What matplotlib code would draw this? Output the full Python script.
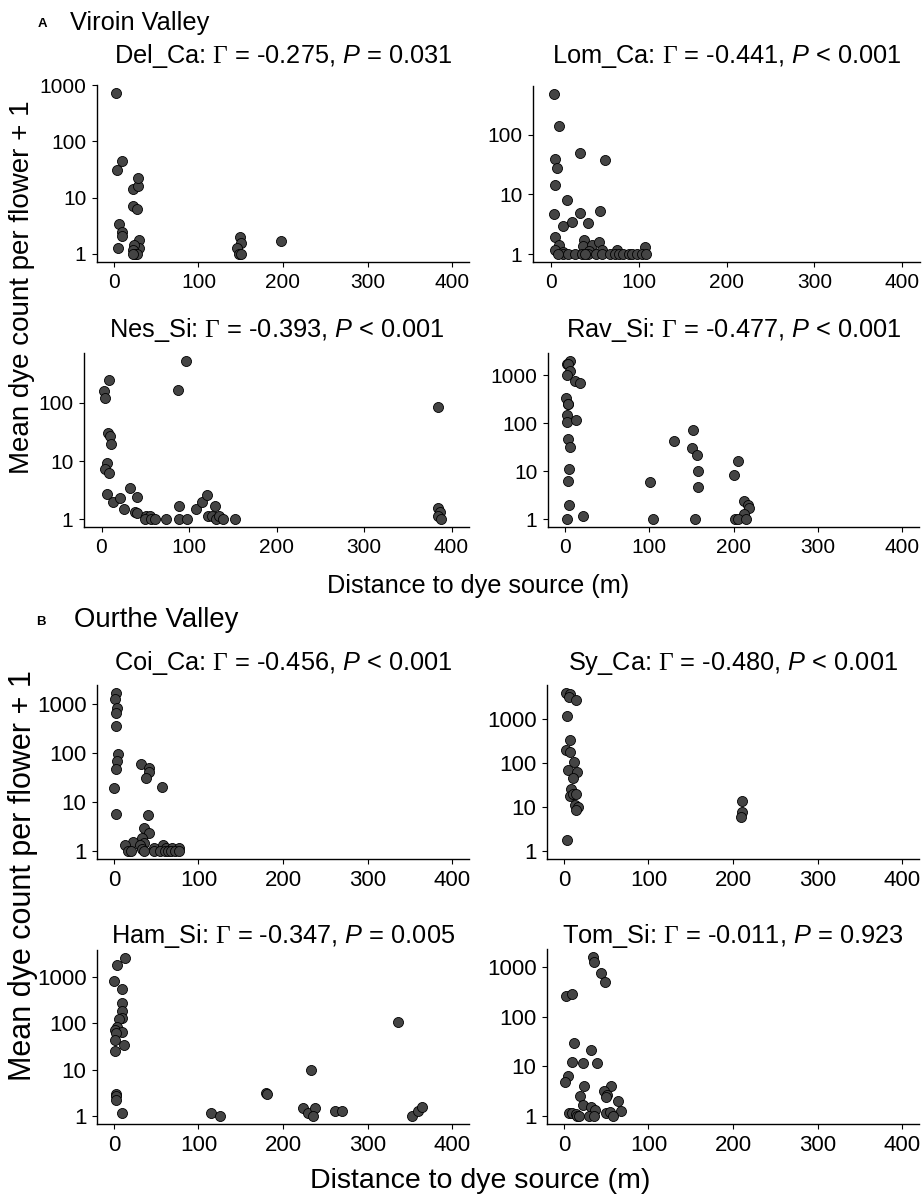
import matplotlib
matplotlib.use("Agg")
import matplotlib.pyplot as plt
from matplotlib.ticker import FixedLocator, FixedFormatter, NullLocator
import numpy as np

plt.rcParams['font.family'] = ['Liberation Sans', 'DejaVu Sans']
plt.rcParams['mathtext.fontset'] = 'custom'
plt.rcParams['mathtext.rm'] = 'Liberation Serif'
plt.rcParams['mathtext.it'] = 'Liberation Sans:italic'

# values (distance in m, mean dye count per flower + 1)
del_ca_x = [3, 9, 4, 22, 28, 28, 23, 27, 6, 10, 10, 5, 30, 30, 24, 23, 25, 27, 23,
            149, 150, 146, 148, 150, 198]
del_ca_y = [720, 44, 31, 14, 16, 22, 7, 6.2, 3.4, 2.5, 2.1, 1.26, 1.8, 1.26, 1.45, 1.18,
            1.0, 1.0, 1.0, 2.0, 1.55, 1.26, 1.0, 1.0, 1.7]

lom_ca_x = [4, 9, 5, 7, 5, 33, 62, 19, 4, 33, 56, 14, 24, 42, 5, 10, 5, 14, 38, 37, 47,
            55, 44, 58, 75, 107, 14, 20, 28, 36, 42, 52, 58, 67, 73, 78, 82, 89, 93, 98,
            104, 109, 8, 39]
lom_ca_y = [480, 138, 39, 27.5, 14.4, 50, 37.6, 7.9, 4.6, 4.9, 5.3, 3.0, 3.5, 3.3, 1.9,
            1.4, 1.15, 1.1, 1.7, 1.38, 1.4, 1.57, 1.14, 1.15, 1.17, 1.3, 1, 1, 1, 1, 1,
            1, 1, 1, 1, 1, 1, 1, 1, 1, 1, 1, 1, 1]

nes_si_x = [96, 87, 385, 8, 3, 4, 7, 10, 11, 6, 4, 8, 6, 13, 21, 33, 40, 26, 38, 41, 51,
            55, 50, 57, 61, 74, 88, 88, 98, 108, 115, 121, 130, 122, 126, 131, 134, 139,
            153, 385, 387, 384, 388]
nes_si_y = [530, 167, 84, 250, 162, 122, 30, 27, 20, 9.4, 7.2, 6.3, 2.7, 2.0, 2.3, 3.4,
            2.4, 1.5, 1.35, 1.27, 1.15, 1.15, 1, 1, 1, 1, 1.7, 1, 1, 1.5, 2.0, 2.6, 1.7,
            1.15, 1.15, 1, 1.15, 1, 1, 1.55, 1.3, 1.15, 1]

rav_si_x = [6, 3, 4, 6, 3, 12, 18, 1, 4, 4, 2, 3, 13, 4, 6, 5, 4, 5, 3, 22, 101, 104,
            130, 152, 151, 157, 158, 158, 154, 200, 205, 213, 217, 218, 213, 202, 205, 215]
rav_si_y = [2000, 1700, 1750, 1250, 1030, 750, 690, 340, 255, 250, 146, 106, 115, 48, 32,
            11, 6.3, 2.0, 1.0, 1.14, 6.0, 1.0, 43, 71, 31, 21.5, 10.2, 4.6, 1.0, 8.3, 16,
            2.4, 2.0, 1.7, 1.27, 1.0, 1.0, 1.0]

coi_ca_x = [3, 1, 4, 2, 2, 5, 4, 2, 0.5, 2, 32, 42, 41, 38, 57, 40, 35, 41, 33, 36, 22,
            13, 17, 31, 33, 36, 47, 58, 62, 69, 77, 20, 48, 54, 60, 64, 68, 72, 77]
coi_ca_y = [1660, 1230, 810, 660, 355, 95, 67, 46, 19.5, 5.7, 58, 50, 41, 31, 20, 5.5,
            2.95, 2.3, 1.85, 1.47, 1.5, 1.32, 1.0, 1.36, 1.08, 1.0, 1.17, 1.32, 1.17, 1.17,
            1.17, 1, 1, 1, 1, 1, 1, 1, 1]

sy_ca_x = [3, 7, 6, 14, 4, 7, 3, 7, 12, 5, 15, 11, 8, 7, 11, 14, 13, 17, 14, 4, 211, 211, 209]
sy_ca_y = [3800, 3500, 3070, 2570, 1150, 333, 190, 179, 103, 67, 61, 46, 25, 17.6, 19.5,
           20, 11, 9.8, 8.6, 1.8, 13.6, 7.6, 5.8]

ham_si_x = [13, 4, 0, 9, 10, 10, 10, 6, 4, 1, 9, 2, 1, 12, 1, 3, 3, 3, 9, 115, 126, 180,
            181, 224, 229, 233, 238, 236, 261, 270, 336, 353, 360, 364]
ham_si_y = [2600, 1830, 810, 550, 278, 187, 129, 122, 85, 72, 67, 61, 44, 34, 26, 3.05,
            2.7, 2.2, 1.18, 1.18, 1.0, 3.2, 3.0, 1.46, 1.18, 9.8, 1.46, 1.0, 1.3, 1.3, 106,
            1.0, 1.3, 1.6]

tom_si_x = [34, 36, 44, 49, 2, 9, 12, 32, 9, 23, 39, 5, 1, 24, 56, 48, 51, 50, 19, 64, 22,
            32, 37, 67, 6, 10, 14, 50, 54, 15, 18, 30, 35, 58]
tom_si_y = [1590, 1260, 760, 490, 258, 290, 30, 21, 12.4, 11.8, 11.8, 6.4, 4.9, 4.0, 4.0,
            3.2, 2.7, 2.45, 2.5, 2.0, 1.66, 1.5, 1.3, 1.24, 1.15, 1.15, 1.08, 1.15, 1.2,
            1, 1, 1, 1, 1]

site_names = ["Del_Ca", "Lom_Ca", "Nes_Si", "Rav_Si", "Coi_Ca", "Sy_Ca", "Ham_Si", "Tom_Si"]
gammas = ["-0.275", "-0.441", "-0.393", "-0.477", "-0.456", "-0.480", "-0.347", "-0.011"]
p_values = ["= 0.031", "< 0.001", "< 0.001", "< 0.001", "< 0.001", "< 0.001", "= 0.005", "= 0.923"]
x_ticks = [0, 100, 200, 300, 400]
y_ticks = [1, 10, 100, 1000]

W, H = 923, 1196
fig = plt.figure(figsize=(W / 100, H / 100), dpi=100)

# panel boxes in pixels: left, top, right, bottom ; title baseline ; tick size
panels = [
    (del_ca_x, del_ca_y, (97, 85, 469, 262), 63, 15),
    (lom_ca_x, lom_ca_y, (533, 86, 920, 262), 63, 15),
    (nes_si_x, nes_si_y, (84, 353, 469, 527), 337, 15),
    (rav_si_x, rav_si_y, (548, 353, 919, 527), 337, 15),
    (coi_ca_x, coi_ca_y, (97, 685, 469, 859), 670, 16),
    (sy_ca_x, sy_ca_y, (547, 685, 919, 859), 670, 16),
    (ham_si_x, ham_si_y, (97, 950, 469, 1124), 943, 16),
    (tom_si_x, tom_si_y, (547, 949, 919, 1124), 943, 16),
]

for i, (xs, ys, box, tbase, tsize) in enumerate(panels):
    l, t, r, b = box
    ax = fig.add_axes([l / W, 1 - b / H, (r - l) / W, (b - t) / H])
    ax.scatter(xs, ys, s=52, facecolor='#444444', edgecolor='black', linewidth=0.6,
               zorder=3, clip_on=False)
    ax.set_yscale('log')
    # log axis starts from 1 (counts + 1), 5% padding like ggplot
    lo, hi = min(0.0, np.log10(min(ys))), np.log10(max(ys))
    pad = 0.05 * (hi - lo)
    ax.set_ylim(10 ** (lo - pad), 10 ** (hi + pad))
    ax.set_xlim(-20, 420)
    ax.xaxis.set_major_locator(FixedLocator(x_ticks))
    ax.yaxis.set_major_locator(FixedLocator(y_ticks))
    ax.yaxis.set_major_formatter(FixedFormatter([str(v) for v in y_ticks]))
    ax.yaxis.set_minor_locator(NullLocator())
    for s in ['top', 'right']:
        ax.spines[s].set_visible(False)
    for s in ['left', 'bottom']:
        ax.spines[s].set_linewidth(1.0)
    ax.tick_params(length=3.6, width=0.8, pad=4, labelsize=tsize, colors='black')
    title = (site_names[i] + r": $\Gamma$ = " + gammas[i] + r", $\mathit{P}$ " + p_values[i])
    fig.text((l + r) / 2 / W, 1 - tbase / H, title, ha='center', va='baseline', fontsize=18.3)

# section headings
fig.text(38 / W, 1 - 27 / H, "A", fontsize=9.5, fontweight='bold', va='baseline')
fig.text(70 / W, 1 - 30 / H, "Viroin Valley", fontsize=18.3, va='baseline')
fig.text(36 / W, 1 - 625 / H, "B", fontsize=9.5, fontweight='bold', va='baseline')
fig.text(74 / W, 1 - 627 / H, "Ourthe Valley", fontsize=19.8, va='baseline')

# axis labels
fig.text(478 / W, 1 - 593 / H, "Distance to dye source (m)", fontsize=18.2,
         ha='center', va='baseline')
fig.text(480 / W, 1 - 1188 / H, "Distance to dye source (m)", fontsize=20.5,
         ha='center', va='baseline')
fig.text(22 / W, 1 - 287 / H, "Mean dye count per flower + 1", fontsize=20,
         rotation=90, ha='center', va='center')
fig.text(23 / W, 1 - 876 / H, "Mean dye count per flower + 1", fontsize=22,
         rotation=90, ha='center', va='center')

fig.savefig("out.png", dpi=100)
